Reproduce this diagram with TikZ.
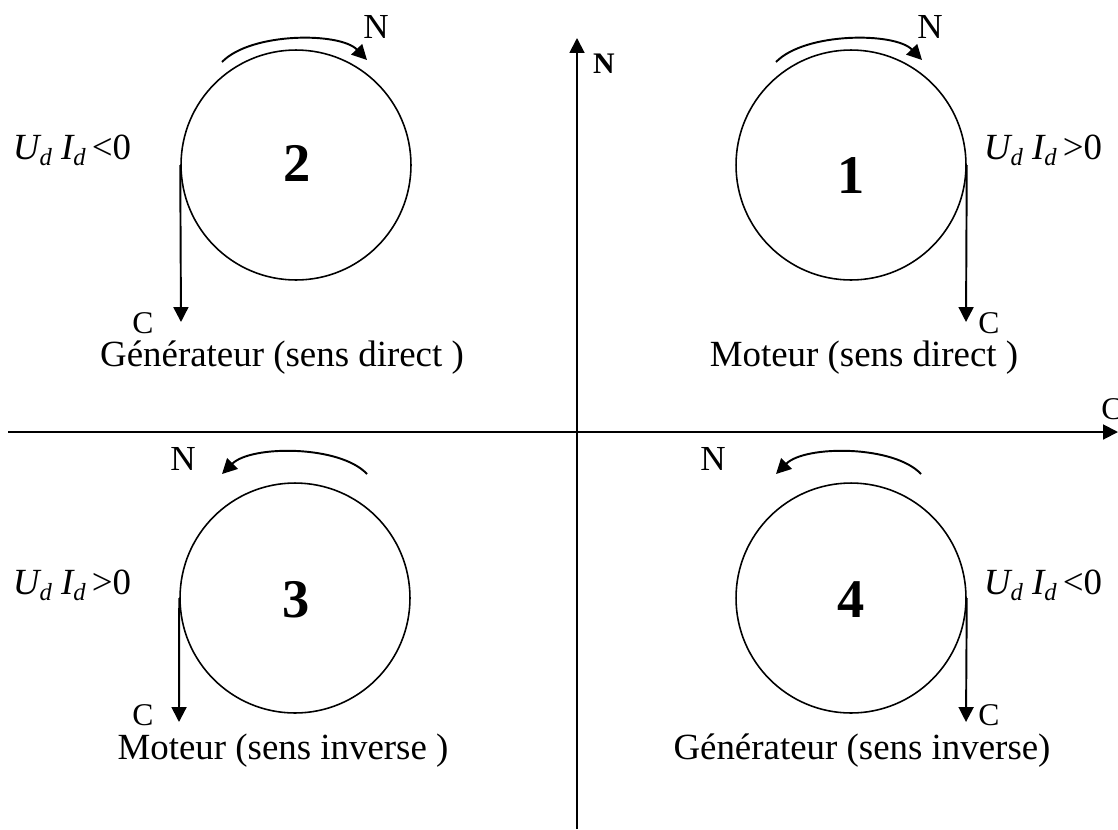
\documentclass[tikz,border=0pt]{standalone}
\usepackage{fontspec}
\setmainfont{Liberation Serif}
\usetikzlibrary{arrows.meta}
\newcommand{\subd}{\raisebox{-0.35ex}{\fontsize{14}{14}\selectfont d}}
\newcommand{\prodUI}[1]{\textit{U\subd\ I\subd}\,#1}
\begin{document}
\begin{tikzpicture}[x=0.02cm,y=-0.02cm,
    arr/.style={-{Triangle[length=8.5pt,width=8.5pt]},line width=1.1pt},
    wheel/.style={draw,circle,line width=0.9pt,minimum size=4.6cm,inner sep=0pt},
    num/.style={font=\fontsize{31}{31}\selectfont\bfseries},
    lbl/.style={font=\fontsize{18}{18}\selectfont,inner sep=0.5pt},
    rot/.style={font=\fontsize{20}{20}\selectfont,inner sep=1pt},
    txt/.style={font=\fontsize{21}{24}\selectfont,inner sep=0pt}]
    \useasboundingbox (0,0) rectangle (1118,829);
    % axes
    \coordinate (hl) at (8,432);
    \coordinate (hr) at (1118,432);
    \coordinate (vb) at (577,829);
    \coordinate (vt) at (577,38);
    \draw[arr] (hl) -- (hr);
    \draw[arr] (vb) -- (vt);
    \node[lbl] (axC) at (1112,409) {C};
    \node[lbl,font=\fontsize{17}{17}\selectfont\bfseries] (axN) at (604,64) {N};
    % quadrant 1
    \node[wheel] (w1) at (851,165) {};
    \node[num] (n1) at (851,176) {1};
    \coordinate (c1) at (966,322);
    \draw[arr] (w1.east) -- (c1);
    \node[lbl] (lc1) at (989,323) {C};
    \coordinate (a1s) at (776,62);
    \coordinate (a1e) at (922,60);
    \draw[arr] (a1s) .. controls (805,32) and (895,32) .. (a1e);
    \node[rot] (ln1) at (930,27) {N};
    \node[txt] (u1) at (1043,150) {\prodUI{>0}};
    \node[txt] (t1) at (864,358) {Moteur (sens direct )};
    % quadrant 2
    \node[wheel] (w2) at (296,165) {};
    \node[num] (n2) at (297,163) {2};
    \coordinate (c2) at (181,322);
    \draw[arr] (w2.west) -- (c2);
    \node[lbl] (lc2) at (143,323) {C};
    \coordinate (a2s) at (222,62);
    \coordinate (a2e) at (367,60);
    \draw[arr] (a2s) .. controls (251,32) and (340,32) .. (a2e);
    \node[rot] (ln2) at (376,27) {N};
    \node[txt] (u2) at (72,150) {\prodUI{<0}};
    \node[txt] (t2) at (282,358) {Générateur (sens direct )};
    % quadrant 3
    \node[wheel] (w3) at (295,598) {};
    \node[num] (n3) at (296,600) {3};
    \coordinate (c3) at (179,722);
    \draw[arr] (w3.west) -- (c3);
    \node[lbl] (lc3) at (143,715) {C};
    \coordinate (a3s) at (367,474);
    \coordinate (a3e) at (222,474);
    \draw[arr] (a3s) .. controls (340,445) and (251,445) .. (a3e);
    \node[rot] (ln3) at (183,459) {N};
    \node[txt] (u3) at (72,585) {\prodUI{>0}};
    \node[txt] (t3) at (283,751) {Moteur (sens inverse )};
    % quadrant 4
    \node[wheel] (w4) at (851,598) {};
    \node[num] (n4) at (851,600) {4};
    \coordinate (c4) at (966,722);
    \draw[arr] (w4.east) -- (c4);
    \node[lbl] (lc4) at (989,715) {C};
    \coordinate (a4s) at (921,474);
    \coordinate (a4e) at (776,474);
    \draw[arr] (a4s) .. controls (894,445) and (805,445) .. (a4e);
    \node[rot] (ln4) at (713,459) {N};
    \node[txt] (u4) at (1043,585) {\prodUI{<0}};
    \node[txt] (t4) at (862,751) {Générateur (sens inverse)};
\end{tikzpicture}
\end{document}
